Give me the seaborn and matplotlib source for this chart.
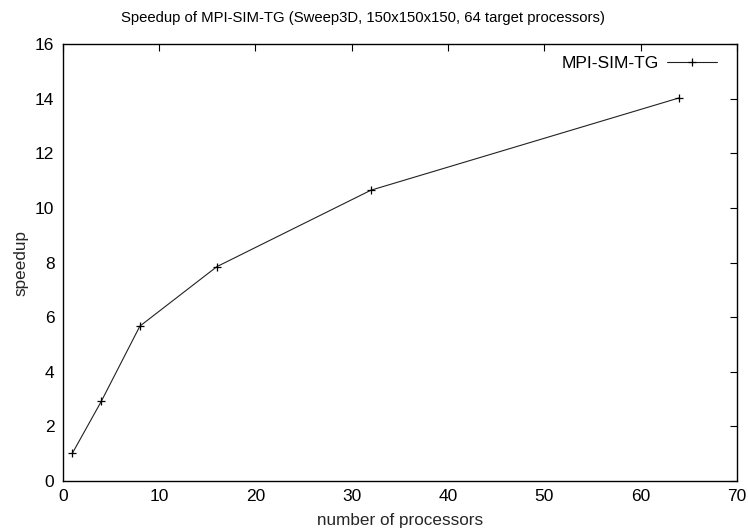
import matplotlib
matplotlib.use("Agg")
import matplotlib.pyplot as plt
import seaborn as sns
import pandas as pd

procs = [1, 4, 8, 16, 32, 64]
speedup = [1.02, 2.92, 5.67, 7.85, 10.65, 14.03]
series_name = "MPI-SIM-TG"
xticks = [0, 10, 20, 30, 40, 50, 60, 70]
yticks = [0, 2, 4, 6, 8, 10, 12, 14, 16]

sns.set_theme(style="white")
plt.rcParams['font.family'] = ['Liberation Sans', 'DejaVu Sans']

df = pd.DataFrame({"procs": procs, "speedup": speedup, "series": series_name})

fig = plt.figure(figsize=(7.48, 5.32), dpi=100)
ax = fig.add_axes([0.084, 0.096, 0.901, 0.821])
sns.lineplot(data=df, x="procs", y="speedup", hue="series", palette=["#222222"],
             marker="+", markersize=6, markeredgewidth=0.9, markeredgecolor="black",
             linewidth=0.8, ax=ax)

ax.set_xlim(0, 70)
ax.set_ylim(0, 16)
ax.set_xticks(xticks)
ax.set_yticks(yticks)
ax.tick_params(direction="in", length=5, width=0.8, top=True, right=True,
               labelsize=12.5, colors="black", pad=6)
ax.set_xticklabels([str(t) for t in xticks])
ax.set_yticklabels([str(t) for t in yticks])
for s in ax.spines.values():
    s.set_color("black")
    s.set_linewidth(1.0)
ax.set_xlabel("number of processors", fontsize=12.3, labelpad=6)
ax.set_ylabel("speedup", fontsize=12.3, labelpad=5)
fig.text(0.485, 0.966, "Speedup of MPI-SIM-TG (Sweep3D, 150x150x150, 64 target processors)",
         fontsize=10.7, ha="center", va="center", color="black")
leg = ax.legend(loc="upper right", bbox_to_anchor=(0.981, 0.99), frameon=False,
                markerfirst=False, fontsize=12.5, handlelength=2.9,
                handletextpad=0.45, borderaxespad=0.0)
for h in leg.legend_handles:
    h.set_markeredgecolor("black")
for t in leg.get_texts():
    t.set_color("black")
fig.savefig("out.png", dpi=100)
